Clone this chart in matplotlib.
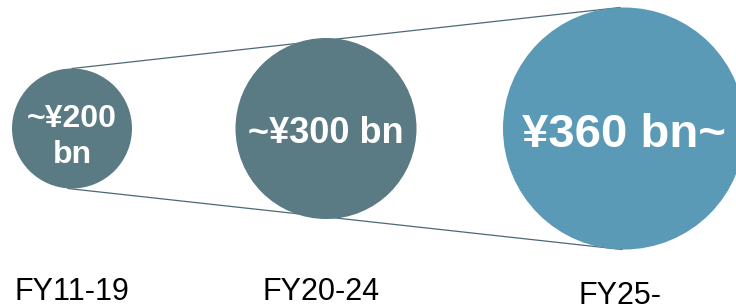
import matplotlib
matplotlib.use("Agg")
import matplotlib.pyplot as plt
from matplotlib.patches import Circle

# data
periods = ["FY11-19", "FY20-24", "FY25-"]
values = [200, 300, 360]
value_labels = [["~¥200", "bn"], ["~¥300 bn"], ["¥360 bn~"]]

# layout / style (pixels, y downwards)
centers_x = [72, 326, 624]
center_y = 128.5
radii = [60, 90.5, 121]
colors = ["#5a7a84", "#5a7a84", "#5a9ab6"]
font_sizes = [23, 26, 34]
value_baselines = [[127, 163], [143], [147]]
label_x = [72, 321, 620]
label_baselines = [300, 300, 304]
line_color = "#4b6a74"

fig = plt.figure(figsize=(7.36, 3.04), dpi=100)
ax = fig.add_axes([0, 0, 1, 1])
ax.set_xlim(0, 736)
ax.set_ylim(304, 0)
ax.set_aspect("equal")
ax.axis("off")

# connecting lines (top and bottom of first and last circle)
ax.plot([centers_x[0], centers_x[-1] - 4], [center_y - radii[0], center_y - radii[-1]],
        color=line_color, lw=0.9, zorder=1)
ax.plot([centers_x[0] - 4, centers_x[-1] - 2], [center_y + radii[0], center_y + radii[-1]],
        color=line_color, lw=0.9, zorder=1)

for i, (p, v, labs) in enumerate(zip(periods, values, value_labels)):
    ax.add_patch(Circle((centers_x[i], center_y), radii[i], color=colors[i], zorder=2, lw=0))
    for lab, yb in zip(labs, value_baselines[i]):
        ax.text(centers_x[i], yb, lab, ha="center", va="baseline", color="white",
                fontsize=font_sizes[i], fontweight="bold", family="Liberation Sans",
                zorder=3)
    ax.text(label_x[i], label_baselines[i], p, ha="center", va="baseline",
            color="black", fontsize=22, family="Liberation Sans", zorder=3)

fig.savefig("out.png", dpi=100)
